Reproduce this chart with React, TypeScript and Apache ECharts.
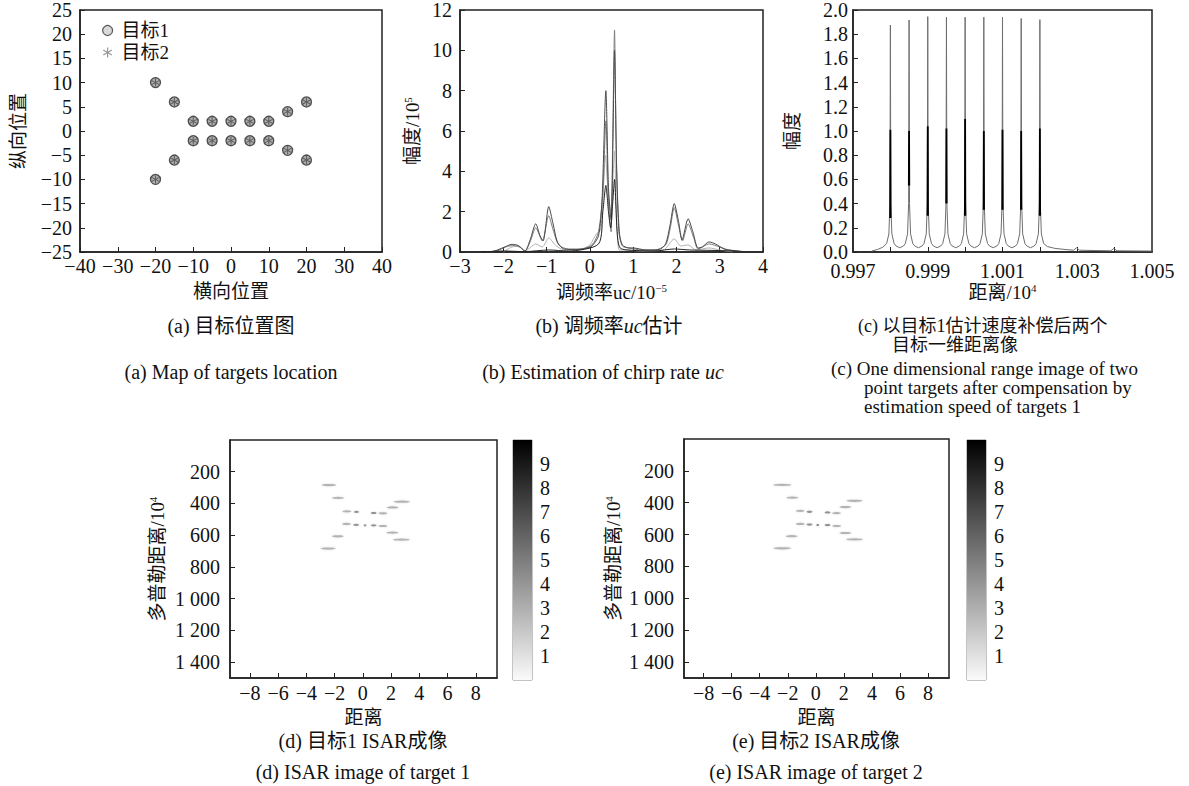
import React, { useEffect, useRef } from 'react';
import * as echarts from 'echarts';

const FONT = "'Liberation Serif','Noto Sans CJK SC',serif";
const INK = '#111';

// ---------- (a) target positions ----------
const targetX = [-20, -15, -10, -5, 0, 5, 10, 15, 20];
const targetUpperY = [10, 6, 2, 2, 2, 2, 2, 4, 6];
const targetLowerY = [-10, -6, -2, -2, -2, -2, -2, -4, -6];
const seriesNamesA = ['目标1', '目标2'];

// ---------- (b) chirp-rate estimation curves ----------
const chirpDark = [
  [-2.4, 0], [-2.2, 0.05], [-2.0, 0.22], [-1.8, 0.38], [-1.65, 0.32], [-1.5, 0.05], [-1.38, 0.6], [-1.25, 1.4],
  [-1.15, 0.8], [-1.08, 0.55], [-0.95, 2.25], [-0.85, 1.4], [-0.75, 0.5], [-0.6, 0.15], [-0.3, 0.12], [-0.1, 0.18],
  [0.05, 0.3], [0.2, 0.8], [0.28, 2.5], [0.37, 8.0], [0.43, 3.2], [0.49, 1.6], [0.53, 5.0], [0.57, 10.0],
  [0.62, 4.0], [0.68, 1.0], [0.75, 0.35], [0.9, 0.2], [1.0, 0.2], [1.3, 0.1], [1.6, 0.12], [1.75, 0.4],
  [1.85, 1.3], [1.95, 2.4], [2.05, 1.5], [2.13, 0.6], [2.27, 1.65], [2.38, 1.0], [2.5, 0.2], [2.6, 0.25],
  [2.75, 0.5], [2.9, 0.4], [3.1, 0.15], [3.3, 0.08], [3.45, 0.05], [3.6, 0]
];
const chirpGray = [
  [-2.3, 0], [-2.1, 0.1], [-1.9, 0.28], [-1.75, 0.32], [-1.6, 0.22], [-1.5, 0.05], [-1.38, 0.5], [-1.25, 1.2],
  [-1.1, 0.55], [-0.95, 1.8], [-0.85, 1.1], [-0.72, 0.35], [-0.5, 0.15], [-0.2, 0.15], [0.05, 0.35], [0.2, 1.0],
  [0.3, 3.0], [0.37, 6.5], [0.43, 2.5], [0.49, 1.0], [0.53, 6.0], [0.57, 11.0], [0.61, 5.0], [0.67, 1.0],
  [0.75, 0.3], [0.9, 0.2], [1.2, 0.1], [1.5, 0.1], [1.75, 0.35], [1.85, 1.1], [1.95, 2.2], [2.05, 1.3],
  [2.14, 0.55], [2.27, 1.4], [2.4, 0.7], [2.5, 0.15], [2.75, 0.4], [3.0, 0.25], [3.2, 0.1], [3.5, 0]
];
const chirpLight = [
  [-2.0, 0], [-1.8, 0.25], [-1.65, 0.28], [-1.5, 0.05], [-1.25, 0.4], [-1.1, 0.25], [-0.95, 0.7], [-0.8, 0.35],
  [-0.6, 0.1], [-0.2, 0.15], [0, 0.35], [0.15, 0.9], [0.25, 1.1], [0.3, 2.5], [0.36, 4.8], [0.42, 3.0],
  [0.48, 2.0], [0.53, 3.5], [0.57, 5.0], [0.62, 1.5], [0.68, 0.1], [0.8, 0.1], [1.2, 0.05], [1.7, 0.1],
  [1.95, 0.65], [2.1, 0.3], [2.27, 0.35], [2.45, 0.1], [2.75, 0.2], [3.0, 0.1], [3.3, 0]
];
const chirpBlack = [
  [-2.5, 0], [-2.0, 0.05], [-1.5, 0.02], [-0.95, 0.1], [-0.5, 0.05], [0.2, 0.4], [0.3, 2.0], [0.37, 3.3],
  [0.43, 2.0], [0.48, 1.2], [0.53, 2.5], [0.57, 3.6], [0.63, 1.0], [0.7, 0.2], [1.0, 0.08], [1.5, 0.05],
  [1.95, 0.15], [2.3, 0.1], [2.8, 0.08], [3.3, 0.05], [3.6, 0]
];

// ---------- (c) range profile ----------
const rangeTarget1 = [
  [0.9975, 0.008], [0.99765, 0.02], [0.9978, 0.04], [0.9979, 0.07], [0.99796, 0.15], [0.997988, 0.4], [0.998, 1.876], [0.998012, 0.4], [0.99804, 0.15], [0.9981, 0.07], [0.99815, 0.05], [0.99825, 0.035],
  [0.99835, 0.05], [0.9984, 0.07], [0.99846, 0.15], [0.998488, 0.4], [0.9985, 1.917], [0.998512, 0.4], [0.99854, 0.15], [0.9986, 0.07], [0.99865, 0.05], [0.99875, 0.035],
  [0.99885, 0.05], [0.9989, 0.07], [0.99896, 0.15], [0.998988, 0.4], [0.999, 1.945], [0.999012, 0.4], [0.99904, 0.15], [0.9991, 0.07], [0.99915, 0.05], [0.99925, 0.035],
  [0.99935, 0.05], [0.9994, 0.07], [0.99946, 0.15], [0.999488, 0.4], [0.9995, 1.94], [0.999512, 0.4], [0.99954, 0.15], [0.9996, 0.07], [0.99965, 0.05], [0.99975, 0.035],
  [0.99985, 0.05], [0.9999, 0.07], [0.99996, 0.15], [0.999988, 0.4], [1.0, 1.94], [1.000012, 0.4], [1.00004, 0.15], [1.0001, 0.07], [1.00015, 0.05], [1.00025, 0.035],
  [1.00035, 0.05], [1.0004, 0.07], [1.00046, 0.15], [1.000488, 0.4], [1.0005, 1.94], [1.000512, 0.4], [1.00054, 0.15], [1.0006, 0.07], [1.00065, 0.05], [1.00075, 0.035],
  [1.00085, 0.05], [1.0009, 0.07], [1.00096, 0.15], [1.000988, 0.4], [1.001, 1.94], [1.001012, 0.4], [1.00104, 0.15], [1.0011, 0.07], [1.00115, 0.05], [1.00125, 0.035],
  [1.00135, 0.05], [1.0014, 0.07], [1.00146, 0.15], [1.001488, 0.4], [1.0015, 1.93], [1.001512, 0.4], [1.00154, 0.15], [1.0016, 0.07], [1.00165, 0.05], [1.00175, 0.035],
  [1.00185, 0.05], [1.0019, 0.07], [1.00196, 0.15], [1.001988, 0.4], [1.002, 1.92], [1.002012, 0.4], [1.00204, 0.15], [1.0021, 0.07], [1.0022, 0.045], [1.0024, 0.03],
  [1.0027, 0.02], [1.0029, 0.015], [1.00298, 0.035], [1.00306, 0.015], [1.0035, 0.012], [1.0039, 0.01], [1.00398, 0.03], [1.00406, 0.01], [1.005, 0.008]
];
const rangeTarget2 = [
  [0.997994, 0.28], [0.998, 1.01], [0.998006, 0.28], [0.9982, null],
  [0.998494, 0.55], [0.9985, 1.0], [0.998506, 0.55], [0.9987, null],
  [0.998994, 0.3], [0.999, 1.04], [0.999006, 0.3], [0.9992, null],
  [0.999494, 0.4], [0.9995, 1.02], [0.999506, 0.4], [0.9997, null],
  [0.999994, 0.3], [1.0, 1.1], [1.000006, 0.3], [1.0002, null],
  [1.000494, 0.35], [1.0005, 1.0], [1.000506, 0.35], [1.0007, null],
  [1.000994, 0.35], [1.001, 1.01], [1.001006, 0.35], [1.0012, null],
  [1.001494, 0.35], [1.0015, 1.0], [1.001506, 0.35], [1.0017, null],
  [1.001994, 0.3], [1.002, 1.02], [1.002006, 0.3]
];

// ---------- (d)/(e) ISAR images: [range, doppler, strength] ----------
const isarTarget1 = [
  [-2.4, 284, 5], [-1.74, 365, 4], [-1.12, 450, 3], [-0.45, 453, 1.8], [0.77, 460, 2], [1.42, 462, 3],
  [2.11, 425, 4], [2.76, 389, 5.5], [-1.15, 529, 3], [-0.47, 535, 2], [0.16, 538, 1], [0.77, 538, 2],
  [1.42, 542, 3], [2.11, 584, 4], [2.73, 628, 5.5], [-1.77, 607, 4], [-2.45, 684, 5]
];
const isarTarget2 = [
  [-2.39, 288, 6], [-1.66, 368, 4], [-1.1, 451, 3], [-0.45, 457, 2], [0.84, 461, 2], [1.49, 465, 3],
  [2.11, 427, 4], [2.76, 388, 5.5], [-1.1, 533, 3], [-0.45, 537, 2], [0.14, 540, 1], [0.84, 540, 2],
  [1.49, 546, 3], [2.11, 590, 4], [2.76, 630, 5.5], [-1.72, 610, 4], [-2.39, 686, 6]
];
const colorbarRange = [0, 10];
const colorbarTicks = [1, 2, 3, 4, 5, 6, 7, 8, 9];
const isarXTicks = [-8, -6, -4, -2, 0, 2, 4, 6, 8];
const isarYTicks = [200, 400, 600, 800, 1000, 1200, 1400];
const rangeLabelTicks = [0.997, 0.999, 1.001, 1.003, 1.005];
const rangeMinorTicks = [0.998, 0.999, 1.0, 1.001, 1.002, 1.003, 1.004];

const ASTERISK =
  'path://M-1.2,10L1.2,10L1.2,-10L-1.2,-10ZM8.06,6.04L9.26,3.96L-8.06,-6.04L-9.26,-3.96ZM-9.26,3.96L-8.06,6.04L9.26,-3.96L8.06,-6.04Z';

const minus = (v: number | string) => String(v).replace('-', '\u2212');

const supRich = {
  sup: { fontSize: 11, fontFamily: FONT, color: INK, verticalAlign: 'top', padding: [0, 0, 9, 0] },
};
const nameStyle = { fontFamily: FONT, fontSize: 19, color: INK, rich: supRich };
const labelStyle = { color: INK, fontFamily: FONT, fontSize: 20 };

function xAx(gridIndex: number, extra: any) {
  return {
    type: 'value',
    gridIndex,
    nameLocation: 'middle',
    nameTextStyle: nameStyle,
    axisLine: { show: true, onZero: false, lineStyle: { color: '#222', width: 1.5 } },
    axisTick: { show: true, inside: true, length: 5, lineStyle: { color: '#222' } },
    splitLine: { show: false },
    ...extra,
    axisLabel: { ...labelStyle, margin: 4, ...(extra.axisLabel || {}) },
  };
}
function yAx(gridIndex: number, extra: any) {
  return {
    type: 'value',
    gridIndex,
    nameLocation: 'middle',
    nameRotate: 90,
    nameTextStyle: nameStyle,
    axisLine: { show: true, onZero: false, lineStyle: { color: '#222', width: 1.5 } },
    axisTick: { show: true, inside: true, length: 5, lineStyle: { color: '#222' } },
    splitLine: { show: false },
    ...extra,
    axisLabel: { ...labelStyle, margin: 8, ...(extra.axisLabel || {}) },
  };
}

const gridBox = (left: number, top: number, width: number, height: number, border = '#222', bw = 1.5) => ({
  left, top, width, height, show: true, borderColor: border, borderWidth: bw, containLabel: false,
});

const fmtThousands = (v: number) =>
  v >= 1000 ? `${Math.floor(v / 1000)} ${String(v % 1000).padStart(3, '0')}` : String(v);

function caption(x: number, y: number, text: string, align = 'center', size = 20) {
  return {
    type: 'text',
    x,
    y,
    style: {
      text,
      fontFamily: FONT,
      fontSize: size,
      fill: INK,
      align,
      verticalAlign: 'middle',
      rich: { i: { fontStyle: 'italic', fontFamily: FONT, fontSize: size, fill: INK } },
    },
  };
}

function buildOption() {
  const upper = targetX.map((x, i) => [x, targetUpperY[i]]);
  const lower = targetX.map((x, i) => [x, targetLowerY[i]]);
  const allTargets = upper.concat(lower);

  const spotSeries = (data: number[][], xi: number) => ({
    type: 'scatter',
    xAxisIndex: xi,
    yAxisIndex: xi,
    symbol: 'circle',
    symbolSize: (v: number[]) => [v[2] * 3, 2.2],
    itemStyle: {
      color: (p: any) => (p.value[2] <= 2 ? '#7a7a7a' : '#a4a4a4'),
      shadowBlur: 2,
      shadowColor: 'rgba(0,0,0,0.15)',
    },
    data,
    silent: true,
  });

  const colorbar = (xi: number) => ({
    type: 'bar',
    xAxisIndex: xi,
    yAxisIndex: xi,
    barWidth: '100%',
    data: [colorbarRange[1]],
    silent: true,
    itemStyle: {
      color: new echarts.graphic.LinearGradient(0, 0, 0, 1, [
        { offset: 0, color: '#000' },
        { offset: 1, color: '#fafafa' },
      ]),
    },
  });

  const isarX = (gi: number) =>
    xAx(gi, {
      min: -9.4,
      max: 9.5,
      name: '距离',
      nameGap: 30,
      axisTick: { show: true, inside: true, length: 5, customValues: isarXTicks, lineStyle: { color: '#222' } },
      axisLabel: { customValues: isarXTicks, formatter: (v: number) => minus(v), margin: 5 },
    });
  const isarY = (gi: number, gap: number) =>
    yAx(gi, {
      min: 0,
      max: 1500,
      inverse: true,
      name: '多普勒距离/10{sup|4}',
      nameGap: gap,
      axisTick: { show: true, inside: true, length: 5, customValues: isarYTicks, lineStyle: { color: '#222' } },
      axisLabel: { customValues: isarYTicks, formatter: fmtThousands, margin: 10 },
    });
  const cbX = (gi: number) => ({ type: 'category', gridIndex: gi, data: ['c'], show: false });
  const cbY = (gi: number) => ({
    type: 'value',
    gridIndex: gi,
    position: 'right',
    min: colorbarRange[0],
    max: colorbarRange[1],
    axisLine: { show: false },
    splitLine: { show: false },
    axisTick: { show: true, inside: true, length: 3, customValues: colorbarTicks, lineStyle: { color: '#666' } },
    axisLabel: { ...labelStyle, margin: 8, customValues: colorbarTicks },
  });

  return {
    animation: false,
    backgroundColor: '#fff',
    textStyle: { fontFamily: FONT },
    grid: [
      gridBox(80, 10, 302, 242),
      gridBox(460, 10, 303, 242),
      gridBox(853, 10, 299, 242),
      gridBox(230, 440, 267, 238),
      gridBox(513, 440, 19, 240, '#888', 1),
      gridBox(684, 439, 265, 239),
      gridBox(967, 440, 19, 240, '#888', 1),
    ],
    xAxis: [
      xAx(0, {
        min: -40, max: 40, interval: 10, name: '横向位置', nameGap: 30,
        axisLabel: { formatter: (v: number) => minus(v) },
      }),
      xAx(1, {
        min: -3, max: 4, interval: 1, name: '调频率uc/10{sup|−5}', nameGap: 30,
        axisLabel: { formatter: (v: number) => minus(v) },
      }),
      xAx(2, {
        min: 0.997, max: 1.005, name: '距离/10{sup|4}', nameGap: 30,
        axisTick: { show: true, inside: true, length: 5, customValues: rangeMinorTicks, lineStyle: { color: '#222' } },
        axisLabel: { customValues: rangeLabelTicks, formatter: (v: number) => v.toFixed(3), margin: 9 },
      }),
      isarX(3),
      cbX(4),
      isarX(5),
      cbX(6),
    ],
    yAxis: [
      yAx(0, {
        min: -25, max: 25, interval: 5, name: '纵向位置', nameGap: 52,
        axisLabel: { formatter: (v: number) => minus(v) },
      }),
      yAx(1, { min: 0, max: 12, interval: 2, name: '幅度/10{sup|5}', nameGap: 38 }),
      yAx(2, {
        min: 0, max: 2, interval: 0.2, name: '幅度', nameGap: 51,
        axisLabel: { formatter: (v: number) => v.toFixed(1), margin: 5, lineHeight: 15 },
      }),
      isarY(3, 63),
      cbY(4),
      isarY(5, 61),
      cbY(6),
    ],
    legend: {
      show: true,
      orient: 'vertical',
      left: 97,
      top: 16,
      itemGap: 3,
      itemWidth: 10,
      itemHeight: 10,
      textStyle: { fontFamily: FONT, fontSize: 19, color: INK, padding: [0, 0, 0, 4] },
      data: [
        { name: seriesNamesA[0], icon: 'circle', itemStyle: { color: '#d0d0d0', borderColor: '#333', borderWidth: 1.2 } },
        { name: seriesNamesA[1], icon: ASTERISK, itemStyle: { color: '#808080' } },
      ],
    },
    series: [
      {
        name: seriesNamesA[0], type: 'scatter', xAxisIndex: 0, yAxisIndex: 0, symbol: 'circle', symbolSize: 10,
        itemStyle: { color: '#9a9a9a', borderColor: '#2a2a2a', borderWidth: 1.3 }, data: allTargets,
      },
      {
        name: seriesNamesA[1], type: 'scatter', xAxisIndex: 0, yAxisIndex: 0, symbol: ASTERISK, symbolSize: 8,
        itemStyle: { color: '#4a4a4a' }, data: allTargets,
      },
      { type: 'line', xAxisIndex: 1, yAxisIndex: 1, showSymbol: false, smooth: 0.25, data: chirpLight, lineStyle: { color: '#b0b0b0', width: 1 } },
      { type: 'line', xAxisIndex: 1, yAxisIndex: 1, showSymbol: false, smooth: 0.25, data: chirpGray, lineStyle: { color: '#7c7c7c', width: 1 } },
      { type: 'line', xAxisIndex: 1, yAxisIndex: 1, showSymbol: false, smooth: 0.25, data: chirpDark, lineStyle: { color: '#4a4a4a', width: 1 } },
      { type: 'line', xAxisIndex: 1, yAxisIndex: 1, showSymbol: false, smooth: 0.25, data: chirpBlack, lineStyle: { color: '#222', width: 1 } },
      { type: 'line', xAxisIndex: 2, yAxisIndex: 2, showSymbol: false, data: rangeTarget1, lineStyle: { color: '#6e6e6e', width: 1 } },
      { type: 'line', xAxisIndex: 2, yAxisIndex: 2, showSymbol: false, connectNulls: false, data: rangeTarget2, lineStyle: { color: '#000', width: 1.8 } },
      spotSeries(isarTarget1, 3),
      colorbar(4),
      spotSeries(isarTarget2, 5),
      colorbar(6),
    ],
    graphic: [
      caption(231, 326, '(a) 目标位置图'),
      caption(231, 372, '(a) Map of targets location'),
      caption(609, 326, '(b) 调频率{i|uc}估计'),
      caption(603, 372, '(b) Estimation of chirp rate {i|uc}'),
      caption(858, 326, '(c) 以目标1估计速度补偿后两个', 'left', 18),
      caption(892, 345, '目标一维距离像', 'left', 18),
      caption(831, 368, '(c) One dimensional range image of two', 'left', 19),
      caption(864, 387, 'point targets after compensation by', 'left', 19),
      caption(864, 406, 'estimation speed of targets 1', 'left', 19),
      caption(363, 741, '(d) 目标1 ISAR成像'),
      caption(363, 772, '(d) ISAR image of target 1'),
      caption(816, 741, '(e) 目标2 ISAR成像'),
      caption(816, 772, '(e) ISAR image of target 2'),
    ],
  };
}

export default function App() {
  const ref = useRef<HTMLDivElement>(null);
  useEffect(() => {
    if (!ref.current) return;
    const chart = echarts.init(ref.current, null, { renderer: 'svg' });
    chart.setOption(buildOption() as any);
    return () => chart.dispose();
  }, []);
  return (
    <div
      ref={ref}
      style={{ position: 'fixed', left: 0, top: 0, width: 1189, height: 786, background: '#fff' }}
    />
  );
}
